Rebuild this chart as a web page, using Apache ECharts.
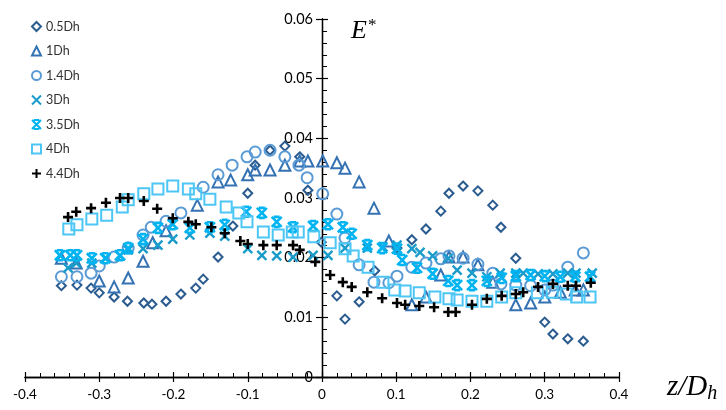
<!DOCTYPE html>
<html><head><meta charset="utf-8">
<script src="https://cdn.jsdelivr.net/npm/echarts@6/dist/echarts.min.js"></script>
<style>html,body{margin:0;padding:0;background:#fff}#c{width:726px;height:410px}</style>
</head><body><div id="c"></div>
<script>
// Series data: [z/Dh, E*]
const d05 = [[-0.351,0.0153],[-0.330,0.0154],[-0.311,0.0149],[-0.300,0.0141],[-0.280,0.0134],[-0.262,0.0127],[-0.240,0.0124],[-0.229,0.0122],[-0.210,0.0127],[-0.190,0.0139],[-0.170,0.0149],[-0.160,0.0164],[-0.140,0.0201],[-0.120,0.0253],[-0.100,0.0308],[-0.090,0.0355],[-0.070,0.0380],[-0.050,0.0387],[-0.030,0.0369],[-0.019,0.0313],[-0.001,0.0226],[0.020,0.0136],[0.031,0.0097],[0.050,0.0126],[0.071,0.0178],[0.101,0.0216],[0.121,0.0230],[0.140,0.0248],[0.160,0.0278],[0.171,0.0308],[0.190,0.0320],[0.210,0.0312],[0.230,0.0288],[0.241,0.0251],[0.261,0.0199],[0.300,0.0092],[0.311,0.0072],[0.331,0.0064],[0.352,0.0060]];
const d1 = [[-0.351,0.0199],[-0.331,0.0191],[-0.300,0.0161],[-0.280,0.0151],[-0.261,0.0166],[-0.241,0.0194],[-0.228,0.0225],[-0.210,0.0245],[-0.168,0.0288],[-0.140,0.0327],[-0.123,0.0330],[-0.100,0.0339],[-0.090,0.0347],[-0.070,0.0347],[-0.050,0.0355],[-0.030,0.0362],[-0.019,0.0362],[0.001,0.0362],[0.020,0.0359],[0.031,0.0350],[0.050,0.0327],[0.070,0.0283],[0.090,0.0228],[0.121,0.0121],[0.140,0.0134],[0.160,0.0171],[0.171,0.0201],[0.190,0.0201],[0.210,0.0188],[0.230,0.0159],[0.261,0.0121],[0.281,0.0124],[0.300,0.0134],[0.321,0.0142],[0.341,0.0146],[0.352,0.0146]];
const d14 = [[-0.351,0.0168],[-0.330,0.0168],[-0.311,0.0174],[-0.300,0.0186],[-0.280,0.0201],[-0.261,0.0216],[-0.241,0.0238],[-0.230,0.0251],[-0.210,0.0261],[-0.190,0.0275],[-0.160,0.0318],[-0.140,0.0339],[-0.121,0.0355],[-0.101,0.0369],[-0.090,0.0377],[-0.070,0.0380],[-0.050,0.0369],[-0.031,0.0355],[-0.020,0.0334],[0.001,0.0307],[0.020,0.0273],[0.031,0.0233],[0.050,0.0188],[0.070,0.0159],[0.090,0.0158],[0.101,0.0169],[0.121,0.0184],[0.140,0.0191],[0.160,0.0198],[0.171,0.0203],[0.190,0.0199],[0.210,0.0189],[0.230,0.0174],[0.241,0.0156],[0.261,0.0154],[0.281,0.0153],[0.300,0.0146],[0.311,0.0154],[0.331,0.0184],[0.352,0.0208]];
const d3 = [[-0.342,0.0183],[-0.331,0.0191],[-0.310,0.0191],[-0.291,0.0199],[-0.272,0.0203],[-0.261,0.0213],[-0.241,0.0215],[-0.221,0.0221],[-0.201,0.0231],[-0.178,0.0238],[-0.151,0.0241],[-0.131,0.0236],[-0.100,0.0215],[-0.081,0.0204],[-0.061,0.0203],[-0.039,0.0201],[-0.012,0.0204],[0.008,0.0204],[0.031,0.0216],[0.061,0.0216],[0.082,0.0218],[0.101,0.0221],[0.121,0.0215],[0.132,0.0209],[0.149,0.0203],[0.170,0.0199],[0.182,0.0179],[0.202,0.0174],[0.222,0.0168],[0.240,0.0174],[0.261,0.0174],[0.271,0.0174],[0.291,0.0173],[0.311,0.0173],[0.331,0.0174],[0.342,0.0174],[0.364,0.0174]];
const d35 = [[-0.353,0.0204],[-0.339,0.0204],[-0.330,0.0204],[-0.310,0.0199],[-0.292,0.0199],[-0.272,0.0204],[-0.261,0.0216],[-0.241,0.0231],[-0.221,0.0250],[-0.201,0.0256],[-0.178,0.0250],[-0.151,0.0251],[-0.131,0.0255],[-0.102,0.0277],[-0.081,0.0275],[-0.061,0.0260],[-0.039,0.0251],[-0.012,0.0253],[0.008,0.0256],[0.028,0.0251],[0.040,0.0240],[0.061,0.0221],[0.081,0.0216],[0.101,0.0215],[0.108,0.0196],[0.128,0.0183],[0.149,0.0173],[0.170,0.0161],[0.182,0.0154],[0.202,0.0154],[0.222,0.0161],[0.242,0.0166],[0.261,0.0169],[0.281,0.0171],[0.300,0.0169],[0.321,0.0168],[0.341,0.0168],[0.361,0.0168]];
const d4 = [[-0.341,0.0248],[-0.330,0.0255],[-0.310,0.0265],[-0.290,0.0271],[-0.269,0.0285],[-0.261,0.0297],[-0.240,0.0307],[-0.221,0.0315],[-0.201,0.0320],[-0.180,0.0315],[-0.170,0.0307],[-0.151,0.0298],[-0.129,0.0285],[-0.112,0.0275],[-0.101,0.0260],[-0.079,0.0243],[-0.059,0.0238],[-0.040,0.0243],[-0.032,0.0243],[-0.011,0.0235],[0.011,0.0225],[0.031,0.0215],[0.042,0.0203],[0.062,0.0184],[0.082,0.0159],[0.098,0.0146],[0.112,0.0144],[0.131,0.0141],[0.152,0.0134],[0.171,0.0131],[0.182,0.0129],[0.202,0.0127],[0.222,0.0127],[0.242,0.0134],[0.261,0.0141],[0.290,0.0141],[0.310,0.0142],[0.329,0.0139],[0.343,0.0134],[0.361,0.0134]];
const d44 = [[-0.342,0.0268],[-0.331,0.0277],[-0.311,0.0283],[-0.291,0.0292],[-0.272,0.0300],[-0.261,0.0300],[-0.240,0.0295],[-0.222,0.0282],[-0.201,0.0266],[-0.180,0.0260],[-0.170,0.0256],[-0.149,0.0251],[-0.131,0.0241],[-0.110,0.0228],[-0.100,0.0223],[-0.079,0.0221],[-0.061,0.0221],[-0.039,0.0221],[-0.030,0.0213],[-0.009,0.0193],[0.011,0.0171],[0.028,0.0159],[0.040,0.0151],[0.061,0.0142],[0.081,0.0132],[0.101,0.0124],[0.112,0.0121],[0.131,0.0119],[0.151,0.0117],[0.170,0.0109],[0.180,0.0109],[0.202,0.0121],[0.222,0.0131],[0.242,0.0136],[0.261,0.0139],[0.271,0.0142],[0.291,0.0151],[0.311,0.0156],[0.331,0.0153],[0.342,0.0153],[0.362,0.0158]];

const names = ['0.5Dh','1Dh','1.4Dh','3Dh','3.5Dh','4Dh','4.4Dh'];
const datasets = [d05,d1,d14,d3,d35,d4,d44];
const colors = ['#2B5C8F','#3472B3','#5B9BD5','#1A9CCB','#00B4F2','#4CC6F5','#000000'];
const symbols = ['diamond','triangle','circle',
  'path://M0,0L10,10M10,0L0,10',
  'path://M0,0L10,10M10,0L0,10M2,0L8,0M2,10L8,10',
  'rect',
  'path://M5,0L5,10M0,5L10,5'];
const sizes = [9,11,11,9,10,11,10];
const widths = [2,2,2,2.4,2.6,2,2.6];

const series = names.map((n,i)=>({
  name:n, type:'scatter', data:datasets[i], symbol:symbols[i], symbolSize:sizes[i],
  xAxisIndex:0, yAxisIndex:0,
  itemStyle:{color:'rgba(0,0,0,0)', borderColor:colors[i], borderWidth:widths[i], opacity:1},
  emphasis:{disabled:true}
}));

const fnt = 'Lato, "Liberation Sans", sans-serif';
const serif = '"Liberation Serif", serif';
const plotW = 726 - 25 - 107;
const xMin = -0.4, xMax = 0.4;
// y axis crosses at x = 0: offset inward from the left grid edge
const yOffset = -plotW * (0 - xMin) / (xMax - xMin);
const chart = echarts.init(document.getElementById('c'), null, {renderer:'canvas'});
const gridBox = {left:25, right:107, top:19, bottom:33, outerBoundsMode:'none', containLabel:false};
const lineStyle = {color:'#000', width:1.3};
const xCommon = {type:'value', min:xMin, max:xMax, interval:0.1, position:'bottom',
  splitLine:{show:false}, axisLine:{show:true, onZero:false, lineStyle}};
const yCommon = {type:'value', min:0, max:0.06, interval:0.01, position:'left', offset:yOffset,
  splitLine:{show:false}, axisLine:{show:true, onZero:false, lineStyle}};
chart.setOption({
  animation:false,
  grid:[Object.assign({}, gridBox), Object.assign({}, gridBox)],
  title:[
    {text:'{e|E}{s|*}', left:346, top:12, textStyle:{fontWeight:'normal', rich:{
      e:{fontFamily:serif, fontStyle:'italic', fontWeight:'normal', fontSize:26, color:'#000'},
      s:{fontFamily:serif, fontWeight:'normal', fontSize:17, color:'#000', verticalAlign:'top', padding:[0,0,12,1]}}}},
    {text:'{e|z/D}{s|h}', left:662, top:365, textStyle:{fontWeight:'normal', rich:{
      e:{fontFamily:serif, fontStyle:'italic', fontWeight:'normal', fontSize:29, color:'#000'},
      s:{fontFamily:serif, fontStyle:'italic', fontWeight:'normal', fontSize:20, color:'#000', verticalAlign:'bottom', padding:[14,0,0,0]}}}}
  ],
  legend:{orient:'vertical', left:26, top:15, itemWidth:9, itemHeight:9, itemGap:11.5,
    textStyle:{fontFamily:fnt, fontSize:12.5, color:'#333'}, data:names},
  xAxis:[
    Object.assign({}, xCommon, {gridIndex:0,
      axisTick:{show:true, inside:false, length:5, lineStyle:{color:'#000', width:1.2}},
      minorTick:{show:false},
      axisLabel:{show:true, fontFamily:fnt, fontSize:13.5, color:'#000', margin:11}}),
    Object.assign({}, xCommon, {gridIndex:1,
      axisTick:{show:true, inside:true, length:5, lineStyle:{color:'#000', width:1.2}},
      minorTick:{show:true, splitNumber:5, length:4, lineStyle:{color:'#000', width:1}},
      axisLabel:{show:false}})
  ],
  yAxis:[
    Object.assign({}, yCommon, {gridIndex:0,
      axisTick:{show:true, inside:false, length:6, lineStyle:{color:'#000', width:1.2}},
      minorTick:{show:false},
      axisLabel:{show:true, fontFamily:fnt, fontSize:14.5, color:'#000', margin:9,
        formatter:v=> v===0 ? '0' : v.toFixed(2)}}),
    Object.assign({}, yCommon, {gridIndex:1,
      axisTick:{show:true, inside:true, length:6, lineStyle:{color:'#000', width:1.2}},
      minorTick:{show:true, splitNumber:5, length:5, lineStyle:{color:'#000', width:1}},
      axisLabel:{show:false}})
  ],
  series: series
});
</script></body></html>
